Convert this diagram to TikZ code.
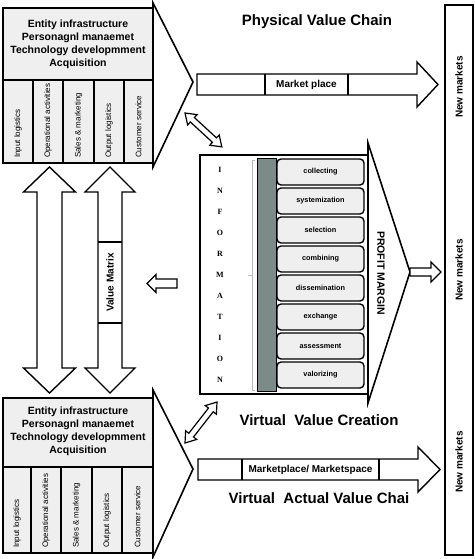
\documentclass[tikz,border=0pt]{standalone}
\usepackage{fontspec}
\setmainfont{Liberation Sans}
\newfontfamily\serifletters{Liberation Serif}
\usetikzlibrary{calc}
\definecolor{blockfill}{HTML}{EFEFEF}
\definecolor{barfill}{HTML}{7D8B88}
\definecolor{bracegray}{HTML}{BBBBBB}
\tikzset{
  outline/.style={line width=1.6pt, line join=miter},
  hollow/.style={line width=1.4pt, fill=white, line join=miter},
  hdr/.style={font=\fontsize{10.5}{13}\selectfont\bfseries, align=center},
  coltext/.style={font=\fontsize{8}{9}\selectfont, rotate=90, anchor=west, inner sep=0pt},
  title/.style={font=\fontsize{15}{18}\selectfont\bfseries},
  lbl/.style={font=\fontsize{10}{12}\selectfont\bfseries, inner sep=0pt},
  vlbl/.style={font=\fontsize{10}{12}\selectfont\bfseries, rotate=90, inner sep=0pt},
  itembox/.style={draw, line width=1.4pt, rounded corners=4pt, fill=blockfill,
    minimum width=87pt, minimum height=26pt, inner sep=0pt,
    font=\fontsize{7.3}{8}\selectfont\bfseries},
  letter/.style={font=\serifletters\fontsize{8}{9}\selectfont\bfseries, inner sep=0pt}
}
\begin{document}
\begin{tikzpicture}[x=1pt,y=-1pt]
\useasboundingbox (0,0) rectangle (474,559);

% ---------- top value chain block ----------
\draw[outline] (153,3) -- (193,82) -- (153,167) -- cycle;
\draw[outline, fill=blockfill] (3,8) rectangle (153,163);
\draw[outline] (3,80) -- (153,80);
\foreach \x in {33,63,94,124} \draw[outline] (\x,80) -- (\x,163);
\node[hdr] (tophdr) at (78,44.5) {Entity infrastructure\\Personagnl manaemet\\Technology developmment\\Acquisition};
\node[coltext] (t1) at (18,158) {Input logistics};
\node[coltext] (t2) at (48,158) {Operational activities};
\node[coltext] (t3) at (78.5,158) {Sales \& marketing};
\node[coltext] (t4) at (109,158) {Output logistics};
\node[coltext] (t5) at (138.5,158) {Customer service};

% ---------- bottom value chain block ----------
\draw[outline] (153,390) -- (193,469) -- (153,557) -- cycle;
\draw[outline, fill=blockfill] (3,398) rectangle (153,553);
\draw[outline] (3,467) -- (153,467);
\foreach \x in {31,61,92,122} \draw[outline] (\x,467) -- (\x,553);
\node[hdr] (bothdr) at (78,431) {Entity infrastructure\\Personagnl manaemet\\Technology developmment\\Acquisition};
\node[coltext] (b1) at (17,548) {Input logistics};
\node[coltext] (b2) at (46,548) {Operational activities};
\node[coltext] (b3) at (76.5,548) {Sales \& marketing};
\node[coltext] (b4) at (107,548) {Output logistics};
\node[coltext] (b5) at (137.5,548) {Customer service};

% ---------- vertical double arrows ----------
\draw[hollow] (49.5,167) -- (75.5,192) -- (62,192) -- (62,368) -- (75.5,368) -- (49.5,393)
  -- (23.5,368) -- (37,368) -- (37,192) -- (23.5,192) -- cycle;
\draw[hollow] (110,167) -- (135,192) -- (122,192) -- (122,368) -- (135,368) -- (110,393)
  -- (85,368) -- (98,368) -- (98,192) -- (85,192) -- cycle;
\draw[outline] (98,242) -- (122,242);
\draw[outline] (98,323) -- (122,323);
\node[vlbl] (vm) at (110,282.5) {Value Matrix};

% ---------- small left arrow ----------
\draw[hollow] (147,283.5) -- (156,274.5) -- (156,279) -- (177,279) -- (177,288) -- (156,288) -- (156,292.5) -- cycle;

% ---------- market place arrow ----------
\draw[hollow] (197,74) -- (417,74) -- (417,62) -- (438,84.5) -- (417,107) -- (417,95) -- (197,95) -- cycle;
\draw[outline] (265,74) -- (265,95);
\draw[outline] (348,74) -- (348,95);
\node[lbl] (mp) at (306.5,84.5) {Market place};

% ---------- marketplace / marketspace arrow ----------
\draw[hollow] (198,459) -- (418,459) -- (418,447) -- (440,469.5) -- (418,492) -- (418,480) -- (198,480) -- cycle;
\draw[outline] (242,459) -- (242,480);
\draw[outline] (379,459) -- (379,480);
\node[lbl] (ms) at (310.5,469.5) {Marketplace/ Marketspace};

% ---------- diagonal double arrows ----------
\begin{scope}[shift={(185,113)}, rotate=-42.6]
\draw[hollow, line width=1.2pt] (0,0) -- (10,7) -- (10,3) -- (40,3) -- (40,7) -- (50,0) -- (40,-7) -- (40,-3) -- (10,-3) -- (10,-7) -- cycle;
\end{scope}
\begin{scope}[shift={(185,443)}, rotate=52]
\draw[hollow, line width=1.2pt] (0,0) -- (10,7) -- (10,3) -- (42,3) -- (42,7) -- (52,0) -- (42,-7) -- (42,-3) -- (10,-3) -- (10,-7) -- cycle;
\end{scope}

% ---------- information box ----------
\draw[outline] (368,143) -- (410,272) -- (368,403) -- cycle;
\draw[outline, fill=white] (200,155) rectangle (368,394);
\foreach \l [count=\i from 0] in {I,N,F,O,R,M,A,T,I,O,N}
  \node[letter] (let\i) at (220,{170+21*\i}) {\l};
\draw[bracegray, line width=0.7pt] (255,160) -- (252,160) -- (252,390) -- (255,390);
\draw[bracegray, line width=0.7pt] (252,275) -- (248,275);
\draw[line width=0.8pt, fill=barfill] (257,158) rectangle (276,391);
\foreach \t [count=\i from 0] in {collecting,systemization,selection,combining,dissemination,exchange,assessment,valorizing}
  \node[itembox] (item\i) at (320.5,{172+29*\i}) {\t};
\node[font=\fontsize{10.5}{12}\selectfont\bfseries, rotate=-90, inner sep=0pt] (pm) at (381,273) {PROFIT MARGIN};

% ---------- small right arrow ----------
\draw[hollow] (410,268) -- (431,268) -- (431,262) -- (441,272) -- (431,282) -- (431,276) -- (410,276) -- cycle;

% ---------- new markets column ----------
\draw[outline] (445,5) rectangle (473,555);
\node[vlbl] (nm1) at (459,87) {New markets};
\node[vlbl] (nm2) at (459,270) {New markets};
\node[vlbl] (nm3) at (459,462) {New markets};

% ---------- titles ----------
\node[title] (t-phys) at (317,22) {Physical Value Chain};
\node[title] (t-vvc) at (319,420) {Virtual~~Value Creation};
\node[title] (t-vavc) at (319,498) {Virtual~~Actual Value Chai};
\end{tikzpicture}
\end{document}
